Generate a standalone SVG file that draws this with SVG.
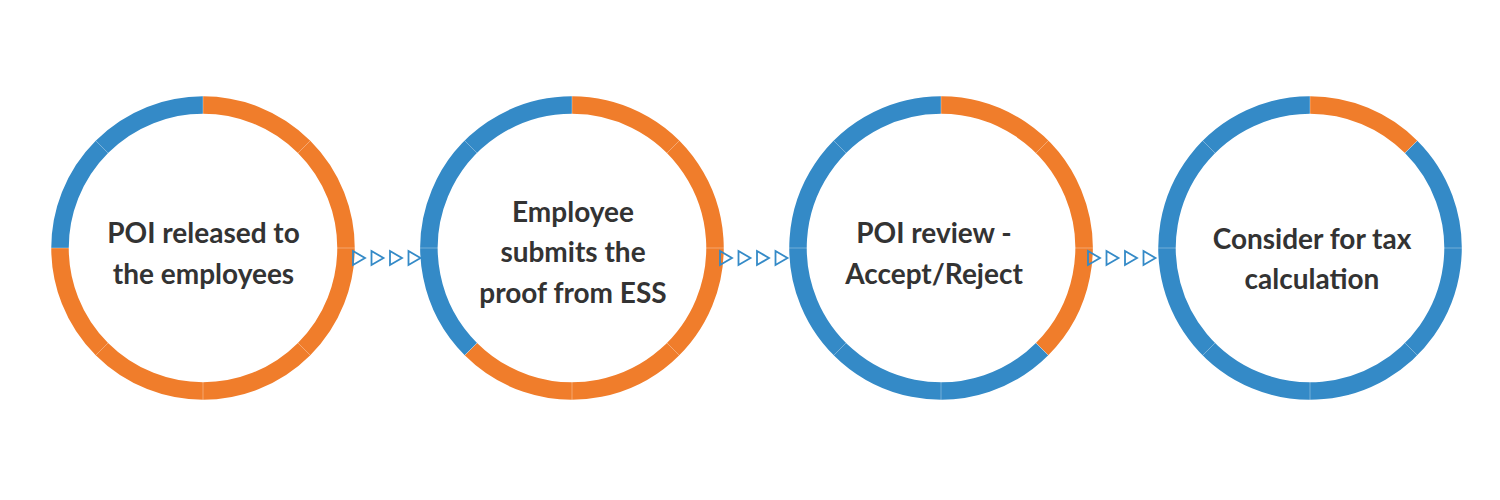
<svg xmlns="http://www.w3.org/2000/svg" xmlns:xlink="http://www.w3.org/1999/xlink" width="1500" height="500" viewBox="0 0 1500 500">
<style>
.or{fill:none;stroke:#F07D2B;stroke-width:17.5}
.bl{fill:none;stroke:#348AC7;stroke-width:17.5}
.seam{stroke:#ffffff;stroke-opacity:0.4;stroke-width:0.8}
.lbl{font-family:Lato,"Source Sans Pro","Noto Sans",sans-serif;font-weight:700;font-size:28px;fill:#333333;text-anchor:middle}
.tri{fill:none;stroke:#348AC7;stroke-width:1.8;stroke-linejoin:miter}
</style>
<defs>
<g id="seams">
<line class="seam" x1="0" y1="-134" x2="0" y2="-152"/>
<line class="seam" x1="0" y1="-134" x2="0" y2="-152" transform="rotate(45)"/>
<line class="seam" x1="0" y1="-134" x2="0" y2="-152" transform="rotate(90)"/>
<line class="seam" x1="0" y1="-134" x2="0" y2="-152" transform="rotate(135)"/>
<line class="seam" x1="0" y1="-134" x2="0" y2="-152" transform="rotate(180)"/>
<line class="seam" x1="0" y1="-134" x2="0" y2="-152" transform="rotate(225)"/>
<line class="seam" x1="0" y1="-134" x2="0" y2="-152" transform="rotate(270)"/>
<line class="seam" x1="0" y1="-134" x2="0" y2="-152" transform="rotate(315)"/>
</g>
<path id="t" class="tri" d="M0,-7 L12,0 L0,7 Z"/>
</defs>
<rect width="1500" height="500" fill="#ffffff"/>
<g id="node1" transform="translate(203,248)">
<path class="or" d="M0,-143 A143,143 0 1 1 -143,0"/>
<path class="bl" d="M-143,0 A143,143 0 0 1 0,-143"/>
<use xlink:href="#seams"/>
<text class="lbl" x="0.5" y="-5">POI released to</text>
<text class="lbl" x="0.5" y="35.5">the employees</text>
</g>
<g id="node2" transform="translate(572,248)">
<path class="or" d="M0,-143 A143,143 0 1 1 -101.12,101.12"/>
<path class="bl" d="M-101.12,101.12 A143,143 0 0 1 0,-143"/>
<use xlink:href="#seams"/>
<text class="lbl" x="1" y="-26">Employee</text>
<text class="lbl" x="1" y="14">submits the</text>
<text class="lbl" x="1" y="55">proof from ESS</text>
</g>
<g id="node3" transform="translate(941,248)">
<path class="or" d="M0,-143 A143,143 0 0 1 101.12,101.12"/>
<path class="bl" d="M101.12,101.12 A143,143 0 1 1 0,-143"/>
<use xlink:href="#seams"/>
<text class="lbl" x="-7" y="-5">POI review -</text>
<text class="lbl" x="-7" y="35.5">Accept/Reject</text>
</g>
<g id="node4" transform="translate(1310,248)">
<path class="or" d="M0,-143 A143,143 0 0 1 101.12,-101.12"/>
<path class="bl" d="M101.12,-101.12 A143,143 0 1 1 0,-143"/>
<use xlink:href="#seams"/>
<text class="lbl" x="2" y="0.5">Consider for tax</text>
<text class="lbl" x="2" y="40.5">calculation</text>
</g>
<g id="connectors">
<use xlink:href="#t" x="353" y="258"/>
<use xlink:href="#t" x="371.5" y="258"/>
<use xlink:href="#t" x="390" y="258"/>
<use xlink:href="#t" x="408.5" y="258"/>
<use xlink:href="#t" x="720" y="258"/>
<use xlink:href="#t" x="738.5" y="258"/>
<use xlink:href="#t" x="757" y="258"/>
<use xlink:href="#t" x="775.5" y="258"/>
<use xlink:href="#t" x="1088" y="258"/>
<use xlink:href="#t" x="1106.5" y="258"/>
<use xlink:href="#t" x="1125" y="258"/>
<use xlink:href="#t" x="1143.5" y="258"/>
</g>
</svg>
